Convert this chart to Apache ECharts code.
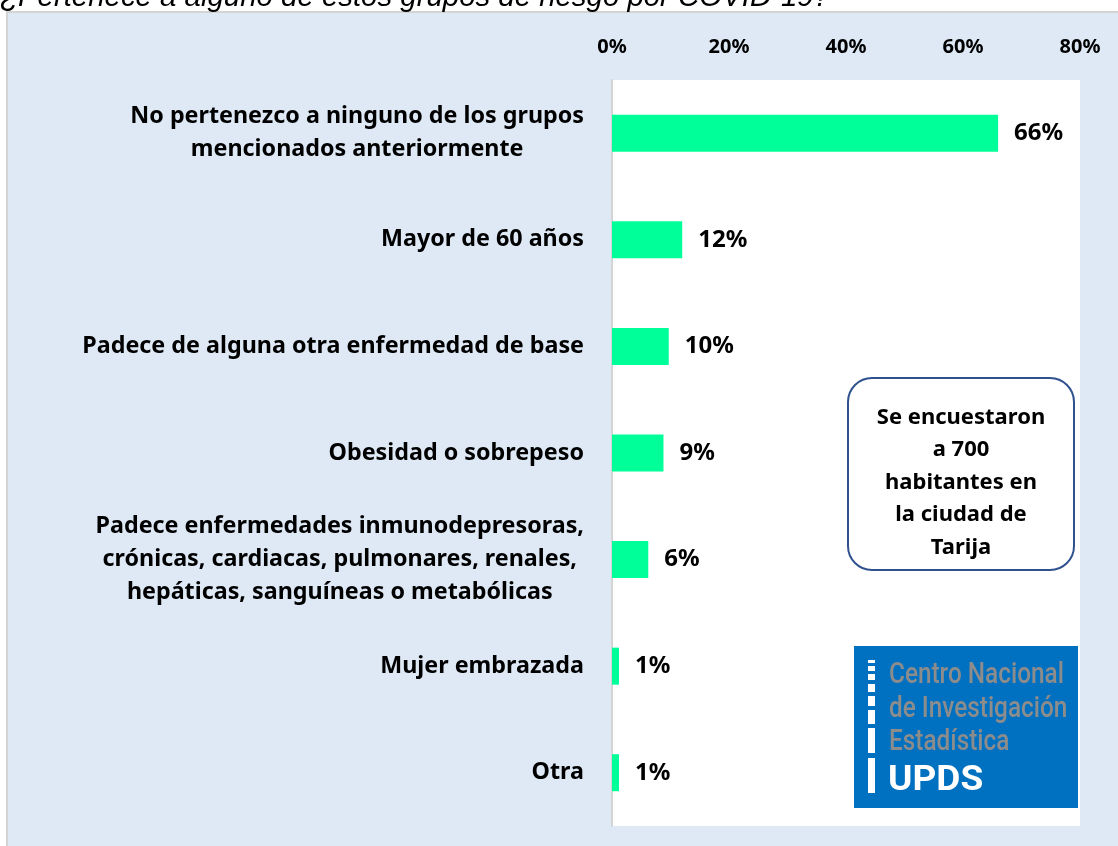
<!DOCTYPE html>
<html>
<head>
<meta charset="utf-8">
<script src="https://cdn.jsdelivr.net/npm/echarts@6/dist/echarts.min.js"></script>
<style>
  html, body { margin: 0; padding: 0; background: #fff; }
  #chart { width: 1118px; height: 846px; }
</style>
</head>
<body>
<div id="chart"></div>
<script>
// datos
const categorias = [
  'No pertenezco a ninguno de los grupos\nmencionados anteriormente',
  'Mayor de 60 años',
  'Padece de alguna otra enfermedad de base',
  'Obesidad o sobrepeso',
  'Padece enfermedades inmunodepresoras,\ncrónicas, cardiacas, pulmonares, renales,\nhepáticas, sanguíneas o metabólicas',
  'Mujer embrazada',
  'Otra'
]
const porcentajes = [66, 12, 9.7, 8.8, 6.2, 1.2, 1.2]
const ticksEjeX = [0, 20, 40, 60, 80]

const titulo = '¿Pertenece a alguno de estos grupos de riesgo por COVID-19?'
const notaLineas = ['Se encuestaron', 'a 700', 'habitantes en', 'la ciudad de', 'Tarija']
const logoLineas = ['Centro Nacional', 'de Investigación', 'Estadística']

const fuente = '"Noto Sans", "DejaVu Sans", sans-serif'
const chart = echarts.init(document.getElementById('chart'))

// franjas blancas del logo (y inicio, y fin)
const franjas = [[660, 663], [666, 671], [674, 680], [684, 692], [696, 706], [710, 724], [728, 753], [758, 793]]

const graficos = [
  // fondo celeste del area del grafico
  { type: 'rect', z: -10, shape: { x: 7, y: 12, width: 1120, height: 840 },
    style: { fill: '#DEE9F5', stroke: '#D4D4D4', lineWidth: 2 } },
  // area de trazado blanca
  { type: 'rect', z: -9, shape: { x: 612, y: 80, width: 468, height: 746 },
    style: { fill: '#FFFFFF' } },
  // titulo cortado arriba
  { type: 'text', x: 0, y: -17, z: 5,
    style: { text: titulo, font: 'italic 29.4px "Liberation Sans", Arial, sans-serif', fill: '#000',
             verticalAlign: 'top' } },
  // cuadro de nota
  { type: 'rect', z: 20, shape: { x: 848, y: 378, width: 226, height: 192, r: 24 },
    style: { fill: '#FFFFFF', stroke: '#2F528F', lineWidth: 2 } },
  { type: 'text', z: 21, x: 961, y: 401,
    style: { text: notaLineas.join('\n'), font: 'bold 22px ' + fuente, fill: '#000',
             align: 'center', verticalAlign: 'top', lineHeight: 32.5 } },
  // logo
  { type: 'rect', z: 20, shape: { x: 854, y: 646, width: 224, height: 162 },
    style: { fill: '#0070C0' } },
  { type: 'text', z: 21, x: 889, y: 659, scaleX: 0.84,
    style: { text: logoLineas.join('\n'), font: '500 29px Roboto, "Liberation Sans", sans-serif', fill: '#8C8C8C',
             lineHeight: 33.5, verticalAlign: 'top' } },
  { type: 'text', z: 21, x: 888, y: 764, scaleX: 1.06,
    style: { text: 'UPDS', font: 'bold 35px Roboto, "Liberation Sans", sans-serif', fill: '#FFFFFF',
             verticalAlign: 'top' } }
]
franjas.forEach(f => {
  graficos.push({ type: 'rect', z: 21, shape: { x: 868, y: f[0], width: 7, height: f[1] - f[0] },
    style: { fill: '#FFFFFF' } })
})

const option = {
  backgroundColor: '#FFFFFF',
  animation: false,
  grid: { left: 612, top: 80, right: 38, bottom: 20, containLabel: false },
  xAxis: {
    type: 'value',
    position: 'top',
    min: ticksEjeX[0],
    max: ticksEjeX[ticksEjeX.length - 1],
    interval: ticksEjeX[1] - ticksEjeX[0],
    axisLine: { show: false },
    axisTick: { show: false },
    splitLine: { show: false },
    axisLabel: {
      formatter: '{value}%',
      color: '#000',
      fontFamily: fuente,
      fontWeight: 'bold',
      fontSize: 20,
      margin: 23
    }
  },
  yAxis: {
    type: 'category',
    inverse: true,
    data: categorias,
    axisLine: { show: true, lineStyle: { color: '#D4D4D4', width: 2 } },
    axisTick: { show: false },
    axisLabel: {
      margin: 28,
      align: 'right',
      formatter: v => v.split('\n').map(l => '{c|' + l + '}').join('\n'),
      rich: {
        c: { align: 'center', color: '#000', fontFamily: fuente, fontWeight: 'bold',
             fontSize: 23.3, lineHeight: 33 }
      }
    }
  },
  series: [{
    type: 'bar',
    data: porcentajes,
    barWidth: 37,
    itemStyle: { color: '#00FF99' },
    label: {
      show: true,
      position: 'right',
      distance: 16,
      formatter: p => Math.round(p.value) + '%',
      color: '#000',
      fontFamily: fuente,
      fontWeight: 'bold',
      fontSize: 24
    }
  }],
  graphic: graficos
}

chart.setOption(option)
</script>
</body>
</html>
